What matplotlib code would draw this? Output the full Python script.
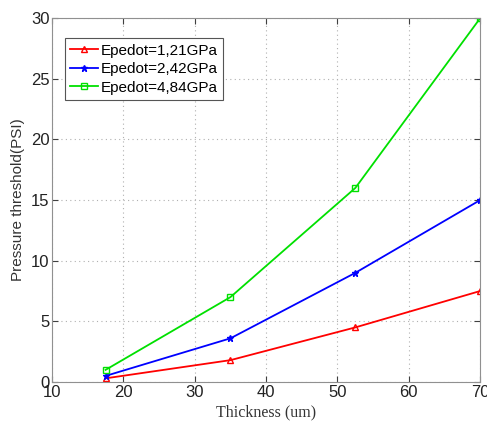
import matplotlib.pyplot as plt
import numpy as np

# Datos
espesor = [17.5, 35, 52.5, 70]
presion_121 = [0.3, 1.8, 4.5, 7.5]
presion_242 = [0.5, 3.6, 9.0, 15.0]
presion_484 = [1.0, 7.0, 16.0, 30.0]
etiquetas = ['Epedot=1,21GPa', 'Epedot=2,42GPa', 'Epedot=4,84GPa']

plt.rcParams['font.family'] = ['Liberation Sans', 'DejaVu Sans']

fig = plt.figure(figsize=(4.87, 4.23), dpi=100)
ax = fig.add_axes([0.107, 0.097, 0.879, 0.86])

ax.plot(espesor, presion_121, color='#ff0000', marker='^', markersize=5,
        markerfacecolor='none', lw=1.3, label=etiquetas[0])
ax.plot(espesor, presion_242, color='#0000ff', marker='*', markersize=5,
        lw=1.3, label=etiquetas[1])
ax.plot(espesor, presion_484, color='#00e000', marker='s', markersize=4,
        markerfacecolor='none', lw=1.3, label=etiquetas[2])

ax.set_xlim(10, 70)
ax.set_ylim(0, 30)
ax.set_xticks(np.arange(10, 71, 10))
ax.set_yticks(np.arange(0, 31, 5))
ax.grid(True, linestyle=(0, (1, 3)), color='#b0b0b0', lw=0.8)
ax.tick_params(direction='in', labelsize=12, colors='#404040', length=4,
               top=True, right=True, labelcolor='#222222', pad=2)
for s in ax.spines.values():
    s.set_color('#909090')

ax.set_xlabel('Thickness (um)', family='Liberation Serif', fontsize=11.5,
              color='#333333', labelpad=3)
ax.set_ylabel('Pressure threshold(PSI)', fontsize=11, color='#333333', labelpad=4)

leg = ax.legend(loc='upper left', fontsize=11, fancybox=False, framealpha=1,
                edgecolor='#555555', handlelength=1.8, borderpad=0.35,
                labelspacing=0.3, handletextpad=0.2, borderaxespad=0,
                bbox_to_anchor=(0.03, 0.945))
leg.get_frame().set_linewidth(0.8)

fig.savefig('out.png', dpi=100)
